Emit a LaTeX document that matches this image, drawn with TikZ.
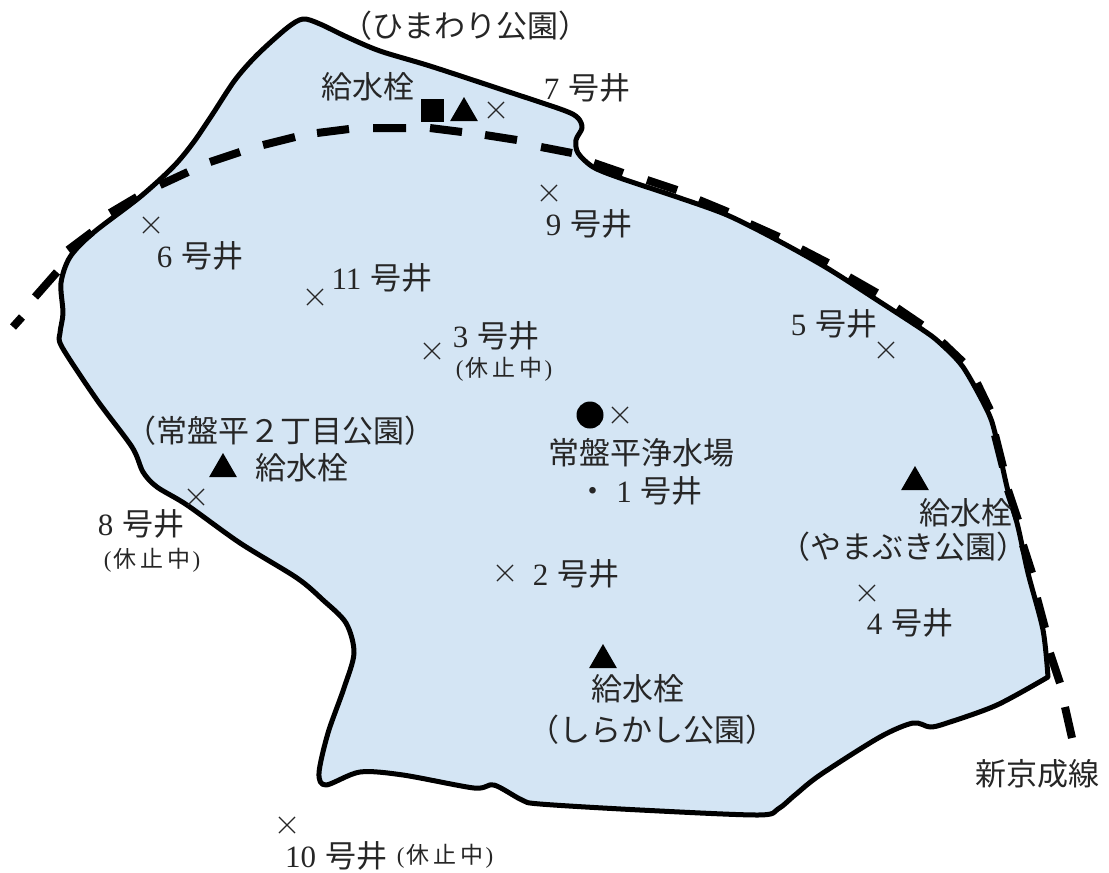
\documentclass[tikz,border=0pt]{standalone}
\usepackage{fontspec}
\usetikzlibrary{shapes.misc,shapes.geometric}
\setmainfont{Noto Sans CJK JP}
\newfontfamily\latf{Liberation Serif}
\newcommand{\nm}[1]{{\latf #1}\hspace{9pt}}
\newcommand{\kyu}{{\latf(}\hspace{2pt}休\hspace{4pt}止\hspace{4pt}中\hspace{2pt}{\latf)}}
\definecolor{area}{HTML}{D4E5F4}
\definecolor{ink}{HTML}{262626}
\tikzset{
  lab/.style={inner sep=0pt,text=ink,font=\fontsize{31}{35}\selectfont},
  slab/.style={inner sep=0pt,text=ink,font=\fontsize{23}{27}\selectfont},
  wellx/.style={draw=ink,cross out,line width=1.1pt,minimum size=15pt,inner sep=0pt},
  hyd/.style={fill=black,regular polygon,regular polygon sides=3,minimum size=32pt,inner sep=0pt},
  tank/.style={fill=black,minimum size=23pt,inner sep=0pt},
  plant/.style={fill=black,circle,minimum size=27pt,inner sep=0pt},
  boundary/.style={draw=black,fill=area,line width=5pt,line join=round},
  rail/.style={draw=black,line width=8pt,line cap=butt}
}
\begin{document}
\begin{tikzpicture}[x=1pt,y=-1pt]
\useasboundingbox (0,0) rectangle (1109,873);
\path[boundary] plot[smooth,tension=0.5] coordinates {
 (1048,677) (997,705) (947,723) (930,727) (913,723) (880,737) (820,775)
 (795,795) (778,809) (758,815) (640,810) (540,804) (522,800) (494,785) (474,788) (403,775) (360,772) (326,785)
 (319,773) (328,733) (344,688) (354,653) (346,623) (323,600) (297,578) (240,543) (187,505) (157,487) (143,472) (132,447)
 (97,400) (62,347) (60,333) (63,313) (61,283) (70,257) (93,233) (140,197) (173,167) (193,143)
 (212,115) (235,80) (257,55) (287,28) (303,19) (320,24) (347,37) (380,51) (430,66) (500,89) (563,110) (578,118) (582,128)
 (576,140) (578,153) (593,167) (620,178) (677,197) (727,215) (777,240) (827,268) (877,300) (923,330)
 (940,343) (963,367) (987,410) (995,433) (1007,487) (1018,527) (1028,573) (1043,630) (1048,677)} -- cycle;
\draw[rail] (1072,738) -- (1065,707) (1060,683) -- (1050,653) (1045,628) -- (1037,598)
 (1032,573) -- (1023,545) (1018,520) -- (1008,490) (1003,467) -- (995,435) (990,410) -- (977,383)
 (963,362) -- (942,342) (922,325) -- (897,308) (877,293) -- (849,277) (828,263) -- (801,249)
 (779,237) -- (750,224) (728,212) -- (699,200) (677,190) -- (647,180) (623,173) -- (594,163)
 (572,153) -- (541,147) (517,140) -- (485,135) (462,132) -- (430,128) (406,128) -- (373,128)
 (349,129) -- (317,133) (295,137) -- (263,145) (240,152) -- (210,162) (188,172) -- (160,185)
 (137,197) -- (110,213) (92,232) -- (68,250) (57,272) -- (35,297) (22,317) -- (13,327);
\node[lab] (t1) at (465,26) {（ひまわり公園）};
\node[lab] (t2) at (368,87) {給水栓};
\node[lab] (t3) at (587,88) {\nm{7}号井};
\node[lab] (t4) at (589,224) {\nm{9}号井};
\node[lab] (t5) at (200,256) {\nm{6}号井};
\node[lab] (t6) at (382,278) {\nm{11}号井};
\node[lab] (t7) at (496,336) {\nm{3}号井};
\node[slab] (t8) at (504,369) {\kyu};
\node[lab] (t9) at (834,324) {\nm{5}号井};
\node[lab] (t10) at (280,431) {（常盤平２丁目公園）};
\node[lab] (t11) at (302,468) {給水栓};
\node[lab] (t12) at (641,453) {常盤平浄水場};
\node[lab] (t13) at (640,491) {・\hspace{8pt}\nm{1}号井};
\node[lab] (t14) at (966,513) {給水栓};
\node[lab] (t15) at (903,547) {（やまぶき公園）};
\node[lab] (t16) at (910,623) {\nm{4}号井};
\node[lab] (t17) at (141,524) {\nm{8}号井};
\node[slab] (t18) at (152,560) {\kyu};
\node[lab] (t19) at (576,574) {\nm{2}号井};
\node[lab] (t20) at (638,689) {給水栓};
\node[lab] (t21) at (652,730) {（しらかし公園）};
\node[lab] (t22) at (1037,774) {新京成線};
\node[lab] (t23) at (336,856) {\nm{10}号井};
\node[slab] (t24) at (445,856) {\kyu};
\node[wellx] (w7) at (496,110) {};
\node[wellx] (w9) at (549,193) {};
\node[wellx] (w6) at (151,225) {};
\node[wellx] (w11) at (315,297) {};
\node[wellx] (w3) at (432,351) {};
\node[wellx] (w5) at (886,350) {};
\node[wellx] (w1) at (620,415) {};
\node[wellx] (w8) at (196,497) {};
\node[wellx] (w2) at (505,573) {};
\node[wellx] (w4) at (867,593) {};
\node[wellx] (w10) at (287,825) {};
\node[hyd] (h1) at (464,113) {};
\node[hyd] (h2) at (223,469) {};
\node[hyd] (h3) at (915,482) {};
\node[hyd] (h4) at (603,660) {};
\node[tank] (s1) at (432,110) {};
\node[plant] (p1) at (590,415) {};
\end{tikzpicture}
\end{document}
